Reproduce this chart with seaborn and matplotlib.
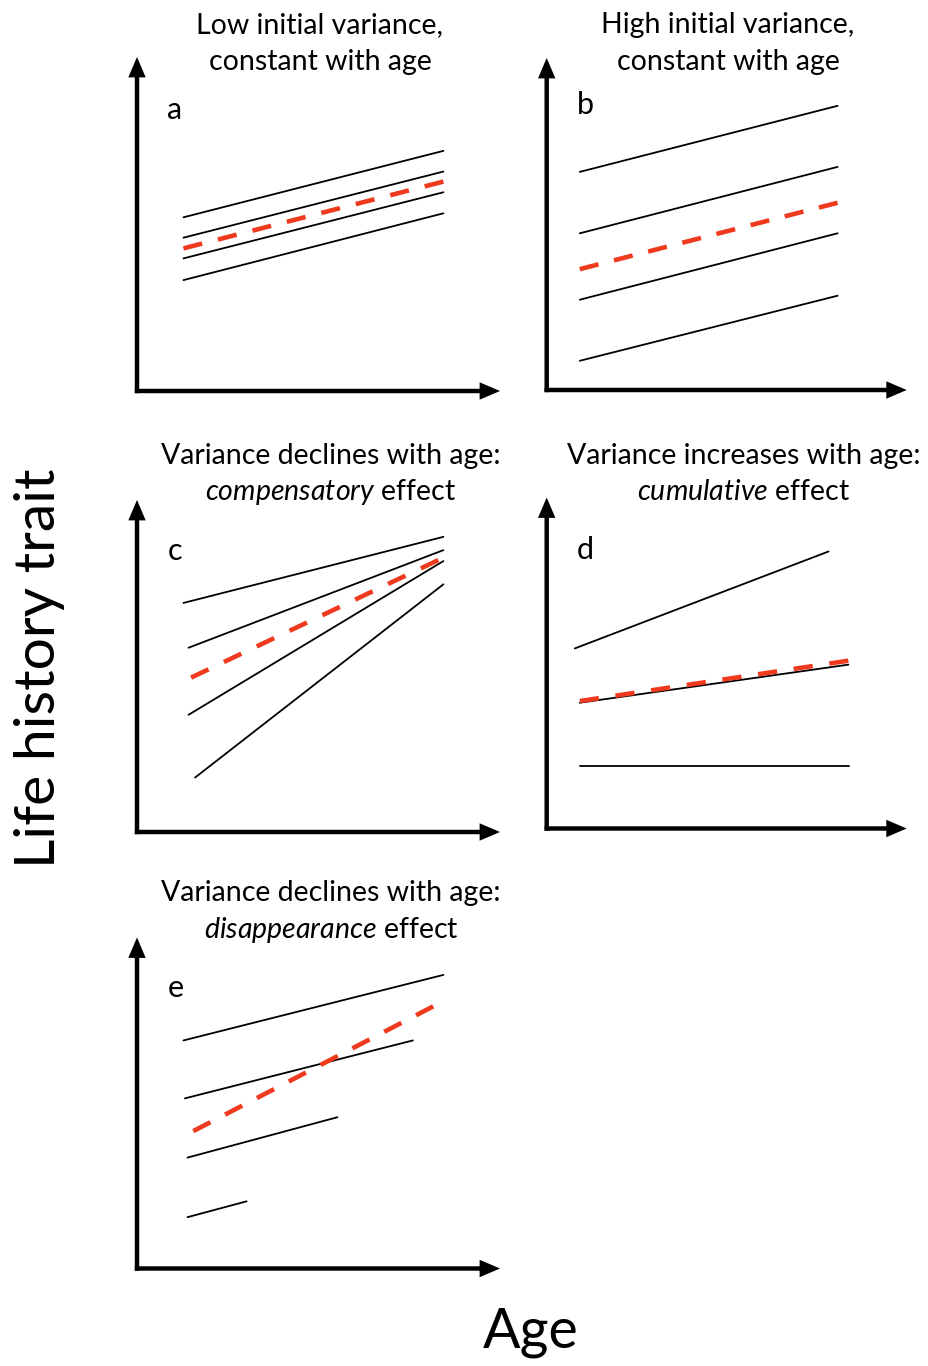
import matplotlib
matplotlib.use("Agg")
import matplotlib.pyplot as plt
import seaborn as sns
import pandas as pd
import numpy as np

sns.set_theme(style="white")
plt.rcParams["font.family"] = ["Lato", "DejaVu Sans"]
plt.rcParams["mathtext.fontset"] = "custom"
plt.rcParams["mathtext.rm"] = "Lato"
plt.rcParams["mathtext.it"] = "Lato:italic"

# Trait values on a 0-100 scale for age and trait, per panel.
# Each individual line: start age, end age, start trait, end trait.
a_age0 = [12.8, 12.8, 12.8, 12.8]
a_age1 = [84.4, 84.4, 84.4, 84.4]
a_trait0 = [52.0, 45.9, 39.7, 33.2]
a_trait1 = [71.9, 65.7, 59.5, 53.2]
a_mean = [12.8, 84.4, 42.7, 62.7]

b_age0 = [9.2, 9.2, 9.2, 9.2]
b_age1 = [80.8, 80.8, 80.8, 80.8]
b_trait0 = [65.7, 47.2, 27.2, 8.8]
b_trait1 = [85.6, 67.2, 47.2, 28.4]
b_mean = [9.2, 80.8, 36.4, 56.4]

c_age0 = [12.8, 14.2, 14.2, 16.0]
c_age1 = [84.4, 84.4, 84.4, 84.4]
c_trait0 = [69.0, 55.5, 35.3, 16.4]
c_trait1 = [88.9, 84.9, 81.6, 74.6]
c_mean = [14.9, 83.0, 46.5, 81.9]

d_age0 = [7.8, 9.2, 9.2]
d_age1 = [78.3, 83.8, 84.0]
d_trait0 = [54.4, 38.0, 18.8]
d_trait1 = [83.7, 49.5, 18.8]
d_mean = [9.2, 83.8, 38.5, 50.7]

e_age0 = [12.8, 13.2, 13.9, 13.9]
e_age1 = [84.4, 76.0, 55.2, 30.2]
e_trait0 = [68.9, 51.4, 33.5, 15.5]
e_trait1 = [88.7, 68.9, 45.7, 20.3]
e_mean = [15.5, 81.6, 41.5, 79.2]

titles = [
    ("Low initial variance,", "constant with age"),
    ("High initial variance,", "constant with age"),
    ("Variance declines with age:", r"$\it{compensatory}$ effect"),
    ("Variance increases with age:", r"$\it{cumulative}$ effect"),
    ("Variance declines with age:", r"$\it{disappearance}$ effect"),
]
panel_letters = ["a", "b", "c", "d", "e"]
x_label = "Age"
y_label = "Life history trait"

W, H = 929, 1366
DPI = 100
fig = plt.figure(figsize=(W / DPI, H / DPI), dpi=DPI)
fig.patch.set_facecolor("white")

# Panel frames in pixels: left, bottom (from top), width, height
frames = [
    (137, 391, 363, 334),
    (546.7, 390, 360, 332),
    (137, 832, 363, 332),
    (546.7, 828.5, 360, 331),
    (137, 1268.5, 363, 331),
]
title_pos = [(320, 25, 62), (728, 25, 62), (331, 456, 492), (744, 456, 492), (331, 893, 930)]
letter_pos = [(175, 110), (585, 105), (175, 551), (585, 550), (176, 988)]

panels = [
    (a_age0, a_age1, a_trait0, a_trait1, a_mean),
    (b_age0, b_age1, b_trait0, b_trait1, b_mean),
    (c_age0, c_age1, c_trait0, c_trait1, c_mean),
    (d_age0, d_age1, d_trait0, d_trait1, d_mean),
    (e_age0, e_age1, e_trait0, e_trait1, e_mean),
]

RED = "#EF3A1E"
MEAN_LW = 3.3
DASH_PT = 13.9   # dash length in points
GAP_PT = 11.0    # nominal gap length in points


def fitted_dashes(ax, xs, ys):
    """Dash pattern (in line-width units) whose dashes start and end on the line ends."""
    p = ax.transData.transform(np.column_stack([xs, ys]))
    length_pt = np.hypot(*(p[1] - p[0])) * 72 / DPI
    n = max(2, int(round((length_pt + GAP_PT) / (DASH_PT + GAP_PT))))
    gap = (length_pt - n * DASH_PT) / (n - 1)
    return (0, (DASH_PT / MEAN_LW, gap / MEAN_LW))


for i, (frame, data) in enumerate(zip(frames, panels)):
    left, bottom, w, h = frame
    ax = fig.add_axes([left / W, 1 - bottom / H, w / W, h / H])
    ax.set_xlim(0, 100)
    ax.set_ylim(0, 100)
    age0, age1, tr0, tr1, mean = data
    rows = []
    for k in range(len(age0)):
        rows.append({"age": age0[k], "trait": tr0[k], "ind": k})
        rows.append({"age": age1[k], "trait": tr1[k], "ind": k})
    df = pd.DataFrame(rows)
    sns.lineplot(data=df, x="age", y="trait", units="ind", estimator=None,
                 color="black", lw=1.3, ax=ax, sort=False)
    mdf = pd.DataFrame({"age": mean[:2], "trait": mean[2:]})
    sns.lineplot(data=mdf, x="age", y="trait", color=RED, lw=MEAN_LW, ax=ax,
                 linestyle=fitted_dashes(ax, mean[:2], mean[2:]))
    ax.lines[-1].set_dash_capstyle("butt")
    ax.set_xticks([])
    ax.set_yticks([])
    ax.set_xlabel("")
    ax.set_ylabel("")
    for s in ax.spines.values():
        s.set_visible(False)
    arrow = dict(arrowstyle="-|>,head_length=0.75,head_width=0.32", lw=3.2,
                 color="black", shrinkA=0, shrinkB=0, mutation_scale=12,
                 capstyle="butt", joinstyle="miter")
    ax.annotate("", xy=(1, 0), xytext=(-0.006, 0), xycoords="axes fraction",
                arrowprops=arrow)
    ax.annotate("", xy=(0, 1), xytext=(0, -0.0065), xycoords="axes fraction",
                arrowprops=arrow)

    tx, ty1, ty2 = title_pos[i]
    fig.text(tx / W, 1 - ty1 / H, titles[i][0], ha="center", va="center",
             fontsize=20.5, color="black")
    fig.text(tx / W, 1 - ty2 / H, titles[i][1], ha="center", va="center",
             fontsize=20.5, color="black")
    lx, ly = letter_pos[i]
    fig.text(lx / W, 1 - ly / H, panel_letters[i], ha="center", va="center",
             fontsize=22, color="black")

fig.text(40 / W, 1 - 668 / H, y_label, rotation=90, ha="center", va="center",
         fontsize=41, color="black")
fig.text(531 / W, 1 - 1333 / H, x_label, ha="center", va="center",
         fontsize=40, color="black")

fig.savefig("out.png", dpi=DPI, facecolor="white")
